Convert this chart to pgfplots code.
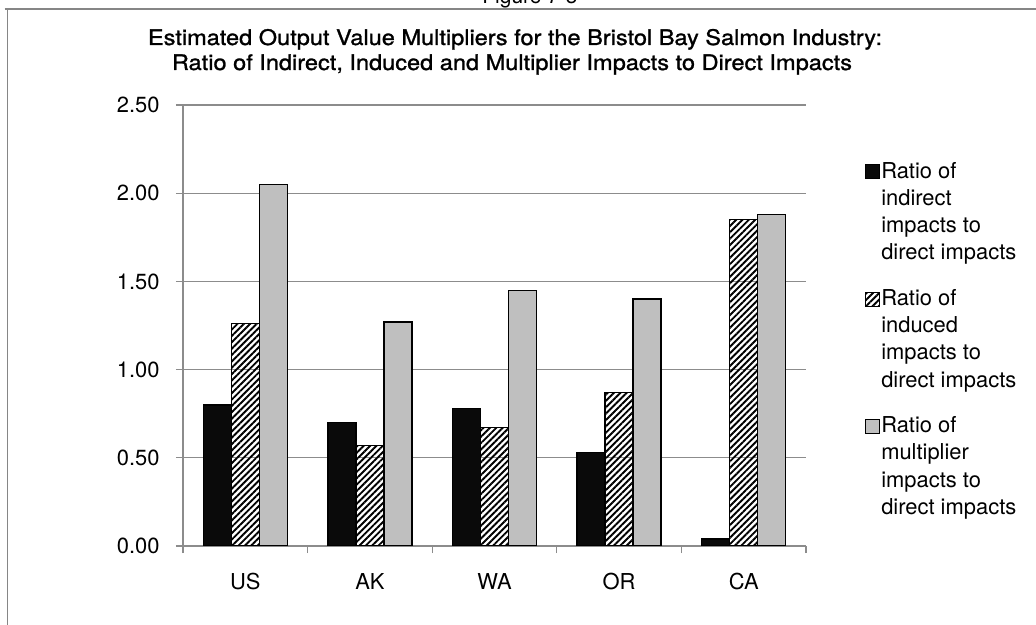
\documentclass[border=0pt]{standalone}
\usepackage{fontspec}
\setmainfont{TeX Gyre Heros}
\newfontfamily\titlefont[FakeStretch=1.1, FakeBold=1.2]{TeX Gyre Heros}
\usepackage{pgfplots}
\pgfplotsset{compat=1.18}
\usetikzlibrary{patterns.meta}
\definecolor{barblack}{HTML}{0A0A0A}
\definecolor{bargray}{HTML}{BFBFBF}
\definecolor{gridgray}{HTML}{8C8C8C}
\definecolor{framegray}{HTML}{868686}

\pgfplotstableread{
x indirect induced multiplier
0 0.80 1.26 2.05
1 0.70 0.57 1.27
2 0.78 0.67 1.45
3 0.53 0.87 1.40
4 0.04 1.85 1.88
}\datatable

\begin{document}
\begin{tikzpicture}
\useasboundingbox (0bp,0bp) rectangle (1036bp,625bp);
\draw[framegray, line width=1.5bp] (4.5bp,616bp) -- (1040bp,616bp);
\draw[framegray, line width=1.5bp] (7.5bp,616.75bp) -- (7.5bp,-5bp);
\node[anchor=base, inner sep=0pt, font=\fontsize{21}{25}\selectfont] at (530bp,621bp) {Figure 7-3};
\node[anchor=base, inner sep=0pt, font=\titlefont\fontsize{21.5}{25}\selectfont] at (515bp,580bp) {Estimated Output Value Multipliers for the Bristol Bay Salmon Industry:};
\node[anchor=base, inner sep=0pt, font=\titlefont\fontsize{21.5}{25}\selectfont] at (512bp,555bp) {Ratio of Indirect, Induced and Multiplier Impacts to Direct Impacts};
\begin{axis}[
  at={(183bp,79bp)}, anchor=south west,
  scale only axis, width=623bp, height=441bp,
  xmin=-0.5, xmax=4.5, ymin=0, ymax=2.5,
  ybar=0pt, bar width=28bp,
  axis x line*=bottom, axis y line*=left,
  axis line style={gridgray, line width=1.3bp},
  ytick={0,0.5,1,1.5,2,2.5},
  ymajorgrids, grid style={gridgray, line width=1.3bp},
  /pgf/number format/fixed, /pgf/number format/fixed zerofill, /pgf/number format/precision=2,
  /pgf/number format/assume math mode=true,
  yticklabel style={font=\fontsize{22}{26}\selectfont, xshift=-13bp},
  xtick={0,1,2,3,4}, xticklabels={US,AK,WA,OR,CA},
  xticklabel style={font=\fontsize{22}{26}\selectfont, yshift=-17bp},
  minor xtick={-0.5,0.5,1.5,2.5,3.5,4.5},
  tick align=outside,
  major tick length=7bp, minor tick length=7bp,
  major x tick style={draw=none},
  tick style={gridgray, line width=1.3bp},
  minor x tick style={gridgray, line width=1.3bp},
  legend style={at={(1.090,0.875)}, anchor=north west, draw=none, fill=none,
    font=\fontsize{22}{27.3}\selectfont, row sep=28bp,
    nodes={inner sep=0pt, align=left}, column sep=1bp},
  legend cell align=left,
  legend image code/.code={\draw[#1, line width=1bp, draw=black] (0bp,33bp) rectangle (14bp,47bp);},
]
\addplot[fill=barblack, draw=black, line width=1.3bp] table[x=x, y=indirect] {\datatable};
\addlegendentry{Ratio of\\indirect\\impacts to\\direct impacts}
\addplot[pattern={Lines[angle=45, distance=4.5bp, line width=1.9bp]}, draw=black, line width=1.3bp] table[x=x, y=induced] {\datatable};
\addlegendentry{Ratio of\\induced\\impacts to\\direct impacts}
\addplot[fill=bargray, draw=black, line width=1.3bp] table[x=x, y=multiplier] {\datatable};
\addlegendentry{Ratio of\\multiplier\\impacts to\\direct impacts}
\end{axis}
\end{tikzpicture}
\end{document}
